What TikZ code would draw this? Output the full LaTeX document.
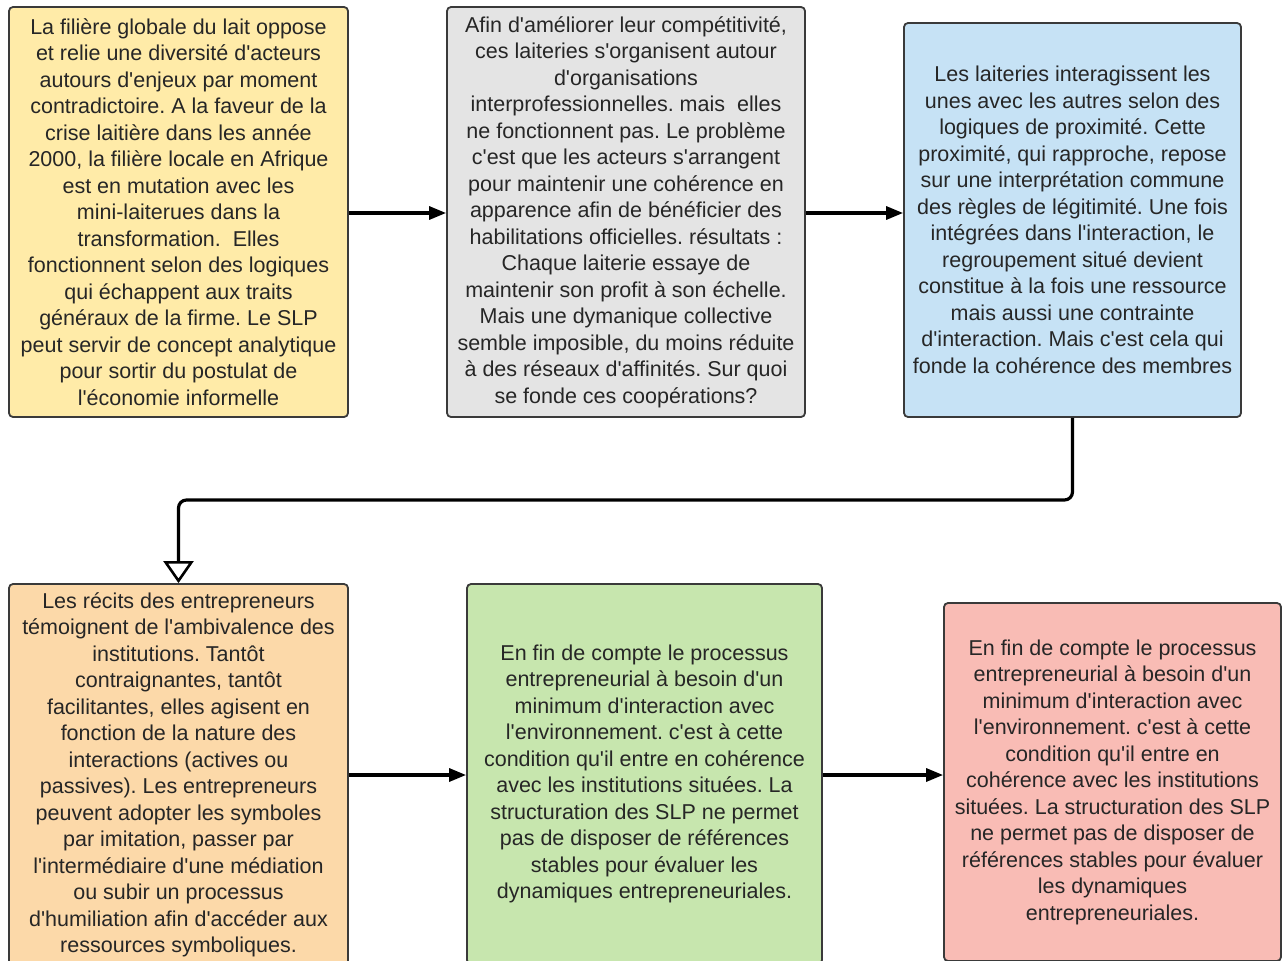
\documentclass[tikz,border=0pt]{standalone}
\usepackage{fontspec}
\newfontfamily\boxfont{Liberation Sans}
\usetikzlibrary{arrows.meta}
\definecolor{cyellow}{HTML}{FFEBA8}
\definecolor{cgray}{HTML}{E4E4E4}
\definecolor{cblue}{HTML}{C6E2F5}
\definecolor{corange}{HTML}{FCD9A9}
\definecolor{cgreen}{HTML}{C7E6AE}
\definecolor{cpink}{HTML}{F9BCB5}
\definecolor{cborder}{HTML}{3A3A3A}
\definecolor{ctext}{HTML}{262626}
\frenchspacing
\tikzset{
  card/.style={draw=cborder, line width=1.8pt, rounded corners=4pt, align=center,
    inner sep=0pt, text=ctext, font=\boxfont\frenchspacing\fontsize{21.5}{26.5}\selectfont},
  flowlink/.style={line width=3.2pt, -{Triangle[length=17pt,width=13pt]}},
  elbowlink/.style={line width=3.2pt, rounded corners=8pt, -{Triangle[open,length=22pt,width=30pt,line width=2.6pt]}}
}
\begin{document}
\begin{tikzpicture}[x=1pt,y=-1pt]
\useasboundingbox (0,0) rectangle (1285,961);
\clip (0,0) rectangle (1285,961);
\fill[white] (0,0) rectangle (1285,961);

\node[card, fill=cyellow, minimum width=339pt, minimum height=410pt] (b1) at (178.5,212) {%
La filière globale du lait oppose\\
et relie une diversité d'acteurs\\
autours d'enjeux par moment\\
contradictoire. A la faveur de la\\
crise laitière dans les année\\
2000, la filière locale en Afrique\\
est en mutation avec les\\
mini-laiterues dans la\\
transformation.\ \ Elles\\
fonctionnent selon des logiques\\
qui échappent aux traits\\
généraux de la firme. Le SLP\\
peut servir de concept analytique\\
pour sortir du postulat de\\
l'économie informelle};

\node[card, fill=cgray, minimum width=358pt, minimum height=410pt] (b2) at (626,212) {%
Afin d'améliorer leur compétitivité,\\
ces laiteries s'organisent autour\\
d'organisations\\
interprofessionnelles. mais\ \ elles\\
ne fonctionnent pas. Le problème\\
c'est que les acteurs s'arrangent\\
pour maintenir une cohérence en\\
apparence afin de bénéficier des\\
habilitations officielles. résultats :\\
Chaque laiterie essaye de\\
maintenir son profit à son échelle.\\
Mais une dymanique collective\\
semble imposible, du moins réduite\\
à des réseaux d'affinités. Sur quoi\\
se fonde ces coopérations?};

\node[card, fill=cblue, minimum width=337pt, minimum height=394pt] (b3) at (1072.5,220) {%
Les laiteries interagissent les\\
unes avec les autres selon des\\
logiques de proximité. Cette\\
proximité, qui rapproche, repose\\
sur une interprétation commune\\
des règles de légitimité. Une fois\\
intégrées dans l'interaction, le\\
regroupement situé devient\\
constitue à la fois une ressource\\
mais aussi une contrainte\\
d'interaction. Mais c'est cela qui\\
fonde la cohérence des membres};

\node[card, fill=corange, minimum width=339pt, minimum height=382pt] (b4) at (178.5,775) {%
Les récits des entrepreneurs\\
témoignent de l'ambivalence des\\
institutions. Tantôt\\
contraignantes, tantôt\\
facilitantes, elles agisent en\\
fonction de la nature des\\
interactions (actives ou\\
passives). Les entrepreneurs\\
peuvent adopter les symboles\\
par imitation, passer par\\
l'intermédiaire d'une médiation\\
ou subir un processus\\
d'humiliation afin d'accéder aux\\
ressources symboliques.};

\node[card, fill=cgreen, minimum width=355pt, minimum height=380pt] (b5) at (644.5,774) {%
En fin de compte le processus\\
entrepreneurial à besoin d'un\\
minimum d'interaction avec\\
l'environnement. c'est à cette\\
condition qu'il entre en cohérence\\
avec les institutions situées. La\\
structuration des SLP ne permet\\
pas de disposer de références\\
stables pour évaluer les\\
dynamiques entrepreneuriales.};

\node[card, fill=cpink, minimum width=337pt, minimum height=358pt] (b6) at (1112.5,782) {%
En fin de compte le processus\\
entrepreneurial à besoin d'un\\
minimum d'interaction avec\\
l'environnement. c'est à cette\\
condition qu'il entre en\\
cohérence avec les institutions\\
situées. La structuration des SLP\\
ne permet pas de disposer de\\
références stables pour évaluer\\
les dynamiques\\
entrepreneuriales.};

\coordinate (turn) at (0,500);
\draw[flowlink] (b1.east |- 0,213) -- (b2.west |- 0,213);
\draw[flowlink] (b2.east |- 0,213) -- (b3.west |- 0,213);
\draw[elbowlink] (b3.south) -- (b3.south |- turn) -| (b4.north);
\draw[flowlink] (b4.east |- 0,775) -- (b5.west |- 0,775);
\draw[flowlink] (b5.east |- 0,775) -- (b6.west |- 0,775);
\end{tikzpicture}
\end{document}
